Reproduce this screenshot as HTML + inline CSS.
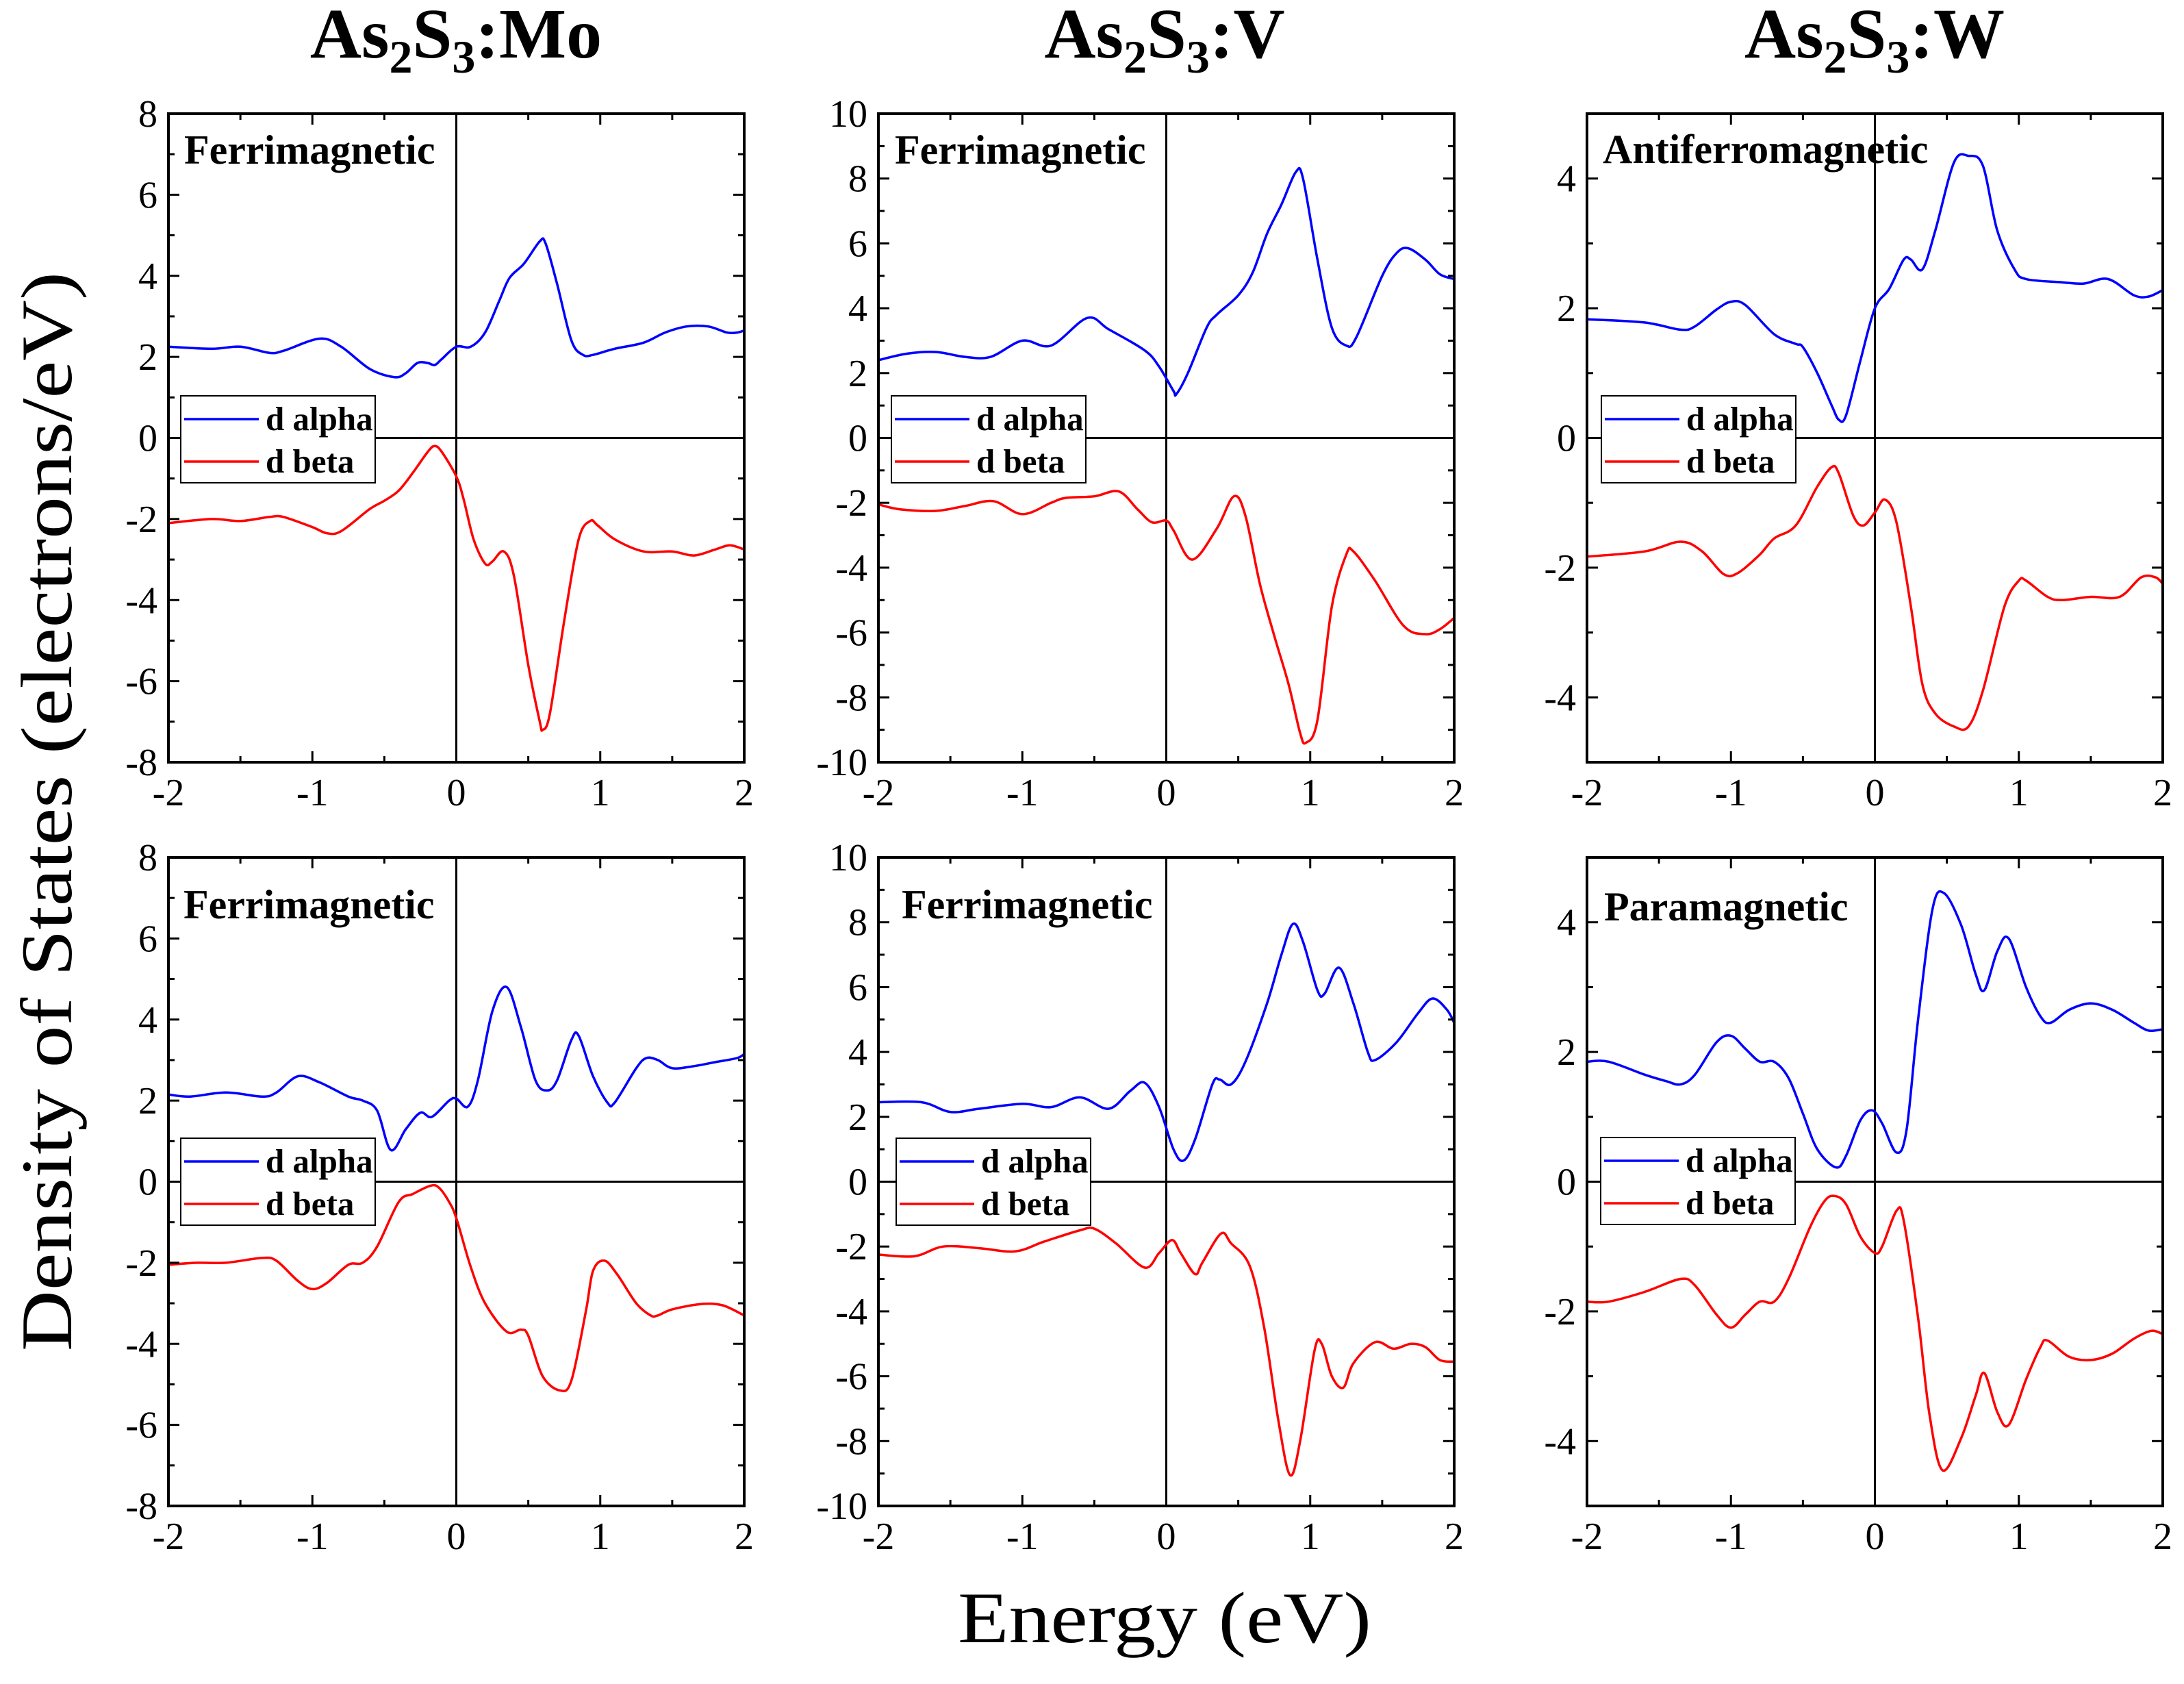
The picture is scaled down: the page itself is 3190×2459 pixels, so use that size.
<!DOCTYPE html>
<html><head><meta charset="utf-8"><style>
html,body{margin:0;padding:0;background:#fff;}
svg{display:block;font-family:"Liberation Serif","Times New Roman",serif;}
svg text{font-family:"Liberation Serif","Times New Roman",serif;}
</style></head><body>
<svg id="fig" width="3190" height="2459" viewBox="0 0 3190 2459" xmlns="http://www.w3.org/2000/svg">
<text x="666" y="84" font-size="104" font-weight="bold" text-anchor="middle" font-family="Liberation Serif, serif">As<tspan font-size="68" dy="22">2</tspan><tspan dy="-22">S</tspan><tspan font-size="68" dy="22">3</tspan><tspan dy="-22">:Mo</tspan></text>
<text x="1701" y="84" font-size="104" font-weight="bold" text-anchor="middle" font-family="Liberation Serif, serif">As<tspan font-size="68" dy="22">2</tspan><tspan dy="-22">S</tspan><tspan font-size="68" dy="22">3</tspan><tspan dy="-22">:V</tspan></text>
<text x="2738" y="84" font-size="104" font-weight="bold" text-anchor="middle" font-family="Liberation Serif, serif">As<tspan font-size="68" dy="22">2</tspan><tspan dy="-22">S</tspan><tspan font-size="68" dy="22">3</tspan><tspan dy="-22">:W</tspan></text>
<text transform="translate(104,1185) rotate(-90)" font-size="106" text-anchor="middle" textLength="1576" lengthAdjust="spacingAndGlyphs" font-family="Liberation Serif, serif">Density of States (electrons/eV)</text>
<text x="1701" y="2398" font-size="106" text-anchor="middle" textLength="604" lengthAdjust="spacingAndGlyphs" font-family="Liberation Serif, serif">Energy (eV)</text>
</svg>
<script>
// ---- data (energy in eV, DOS in electrons/eV) ----
const moTopAlphaE=[-2,-1.7,-1.5,-1.3,-1.2,-0.95,-0.8,-0.6,-0.43,-0.35,-0.27,-0.2,-0.15,-0.1,0,0.1,0.2,0.3,0.37,0.47,0.58,0.62,0.7,0.8,0.88,0.95,1.1,1.3,1.45,1.6,1.75,1.88,1.95,2];
const moTopAlpha=[2.25,2.2,2.25,2.1,2.15,2.45,2.25,1.7,1.5,1.6,1.85,1.85,1.8,1.95,2.25,2.25,2.6,3.4,3.95,4.3,4.85,4.8,3.8,2.4,2.05,2.05,2.2,2.35,2.6,2.75,2.75,2.6,2.6,2.65];
const moTopBetaE=[-2,-1.7,-1.5,-1.3,-1.2,-1.0,-0.9,-0.8,-0.6,-0.5,-0.4,-0.3,-0.2,-0.15,-0.1,0,0.05,0.12,0.2,0.25,0.33,0.4,0.5,0.58,0.6,0.65,0.75,0.85,0.93,0.98,1.1,1.3,1.5,1.65,1.8,1.9,2];
const moTopBeta=[-2.1,-2.0,-2.05,-1.95,-1.95,-2.2,-2.35,-2.3,-1.75,-1.55,-1.3,-0.85,-0.35,-0.2,-0.35,-0.95,-1.5,-2.5,-3.1,-3.05,-2.8,-3.4,-5.6,-7.0,-7.2,-6.8,-4.5,-2.5,-2.05,-2.15,-2.5,-2.8,-2.8,-2.9,-2.75,-2.65,-2.75];

const vTopAlphaE=[-2,-1.8,-1.6,-1.4,-1.22,-1.0,-0.8,-0.55,-0.4,-0.15,-0.05,0.05,0.07,0.15,0.28,0.35,0.5,0.6,0.7,0.8,0.9,0.95,1.05,1.15,1.25,1.32,1.5,1.6,1.68,1.8,1.9,2];
const vTopAlpha=[2.4,2.6,2.65,2.5,2.5,3.0,2.85,3.7,3.35,2.7,2.2,1.45,1.35,2.0,3.4,3.8,4.4,5.1,6.3,7.2,8.2,8.0,5.5,3.4,2.85,3.1,5.0,5.7,5.85,5.5,5.05,4.9];
const vTopBetaE=[-2,-1.85,-1.6,-1.4,-1.2,-1.0,-0.8,-0.7,-0.5,-0.33,-0.2,-0.1,0,0.05,0.18,0.35,0.47,0.55,0.65,0.75,0.85,0.93,0.97,1.05,1.15,1.25,1.3,1.45,1.65,1.8,1.9,2];
const vTopBeta=[-2.05,-2.2,-2.25,-2.1,-1.95,-2.35,-2.0,-1.85,-1.8,-1.65,-2.2,-2.6,-2.55,-2.85,-3.75,-2.8,-1.8,-2.4,-4.5,-6.1,-7.6,-9.1,-9.4,-8.7,-5.2,-3.6,-3.5,-4.4,-5.8,-6.05,-5.9,-5.55];

const wTopAlphaE=[-2,-1.6,-1.35,-1.25,-1.1,-1.0,-0.9,-0.7,-0.55,-0.5,-0.4,-0.3,-0.25,-0.2,-0.1,0,0.1,0.2,0.25,0.33,0.42,0.55,0.65,0.75,0.85,0.97,1.05,1.3,1.45,1.62,1.8,1.9,2];
const wTopAlpha=[1.83,1.78,1.67,1.72,1.98,2.1,2.05,1.6,1.45,1.4,1.0,0.5,0.28,0.35,1.2,2.0,2.3,2.75,2.75,2.6,3.2,4.25,4.35,4.2,3.2,2.6,2.45,2.4,2.38,2.45,2.2,2.18,2.28];
const wTopBetaE=[-2,-1.6,-1.35,-1.2,-1.05,-0.95,-0.8,-0.7,-0.55,-0.4,-0.3,-0.25,-0.15,-0.08,0,0.07,0.15,0.25,0.33,0.42,0.55,0.65,0.75,0.9,1.0,1.05,1.2,1.3,1.5,1.7,1.85,1.95,2];
const wTopBeta=[-1.83,-1.75,-1.6,-1.75,-2.1,-2.08,-1.8,-1.55,-1.35,-0.75,-0.45,-0.55,-1.2,-1.35,-1.15,-0.95,-1.3,-2.6,-3.8,-4.25,-4.45,-4.45,-3.9,-2.6,-2.2,-2.2,-2.45,-2.5,-2.45,-2.45,-2.15,-2.15,-2.25];

const moBotAlphaE=[-2,-1.85,-1.6,-1.35,-1.25,-1.1,-0.95,-0.75,-0.65,-0.55,-0.455,-0.35,-0.25,-0.17,-0.05,0,0.08,0.15,0.25,0.35,0.45,0.55,0.63,0.7,0.8,0.85,0.95,1.05,1.1,1.25,1.32,1.4,1.5,1.65,1.8,1.95,2];
const moBotAlpha=[2.15,2.1,2.2,2.1,2.2,2.6,2.45,2.1,2.0,1.75,0.78,1.3,1.7,1.6,2.0,2.05,1.85,2.5,4.2,4.8,3.8,2.5,2.25,2.5,3.5,3.6,2.6,1.95,1.95,2.8,3.05,3.0,2.8,2.85,2.95,3.05,3.15];
const moBotBetaE=[-2,-1.8,-1.6,-1.35,-1.25,-1.1,-1.0,-0.9,-0.75,-0.65,-0.55,-0.4,-0.3,-0.18,-0.12,-0.05,0,0.1,0.2,0.35,0.45,0.5,0.6,0.72,0.8,0.9,0.95,1.03,1.12,1.25,1.35,1.4,1.5,1.7,1.85,2];
const moBotBeta=[-2.05,-2.0,-2.0,-1.88,-1.95,-2.45,-2.65,-2.5,-2.05,-2.0,-1.6,-0.5,-0.3,-0.1,-0.15,-0.5,-0.9,-2.1,-3.0,-3.7,-3.65,-3.8,-4.8,-5.15,-4.9,-3.2,-2.2,-1.95,-2.3,-3.0,-3.3,-3.3,-3.15,-3.02,-3.05,-3.3];

const vBotAlphaE=[-2,-1.7,-1.5,-1.3,-1.0,-0.8,-0.6,-0.4,-0.25,-0.15,-0.05,0.05,0.12,0.2,0.32,0.37,0.45,0.55,0.7,0.8,0.88,0.95,1.05,1.1,1.2,1.3,1.4,1.45,1.6,1.75,1.85,1.95,2];
const vBotAlpha=[2.45,2.45,2.15,2.25,2.4,2.3,2.6,2.25,2.8,3.05,2.3,1.0,0.65,1.3,3.0,3.15,3.0,3.7,5.5,7.0,7.95,7.4,5.9,5.8,6.6,5.5,4.0,3.75,4.3,5.2,5.65,5.3,4.9];
const vBotBetaE=[-2,-1.75,-1.55,-1.3,-1.05,-0.85,-0.6,-0.5,-0.35,-0.15,-0.05,0.04,0.1,0.2,0.25,0.38,0.45,0.58,0.68,0.78,0.86,0.93,1.03,1.08,1.15,1.23,1.3,1.45,1.58,1.7,1.8,1.9,2];
const vBotBeta=[-2.25,-2.3,-2.0,-2.05,-2.15,-1.85,-1.5,-1.45,-1.9,-2.65,-2.2,-1.8,-2.2,-2.85,-2.5,-1.6,-1.9,-2.6,-4.5,-7.4,-9.05,-8.0,-5.2,-5.0,-6.0,-6.35,-5.6,-4.95,-5.15,-5.0,-5.1,-5.5,-5.55];

const wBotAlphaE=[-2,-1.85,-1.6,-1.45,-1.35,-1.25,-1.1,-1.0,-0.9,-0.8,-0.7,-0.6,-0.5,-0.4,-0.27,-0.2,-0.1,-0.02,0.05,0.15,0.22,0.3,0.4,0.48,0.6,0.7,0.76,0.85,0.93,1.05,1.15,1.22,1.35,1.5,1.65,1.8,1.9,2];
const wBotAlpha=[1.85,1.85,1.65,1.55,1.5,1.65,2.15,2.25,2.05,1.85,1.85,1.6,1.05,0.5,0.22,0.4,0.95,1.1,0.9,0.45,0.8,2.5,4.2,4.45,3.95,3.2,2.95,3.55,3.75,3.0,2.55,2.45,2.65,2.75,2.65,2.45,2.33,2.35];
const wBotBetaE=[-2,-1.85,-1.6,-1.35,-1.25,-1.1,-1.0,-0.9,-0.8,-0.7,-0.6,-0.45,-0.35,-0.28,-0.2,-0.1,0,0.05,0.15,0.2,0.3,0.38,0.47,0.6,0.7,0.76,0.85,0.93,1.05,1.15,1.2,1.35,1.5,1.65,1.8,1.92,2];
const wBotBeta=[-1.85,-1.85,-1.7,-1.5,-1.6,-2.05,-2.25,-2.05,-1.85,-1.85,-1.5,-0.7,-0.3,-0.22,-0.35,-0.85,-1.1,-1.0,-0.45,-0.6,-2.1,-3.6,-4.45,-3.95,-3.3,-2.95,-3.55,-3.75,-3.05,-2.55,-2.45,-2.7,-2.75,-2.65,-2.42,-2.3,-2.35];

const xTicks=[-2,-1,0,1,2];
const yTicksMo=[-8,-6,-4,-2,0,2,4,6,8];
const yTicksV=[-10,-8,-6,-4,-2,0,2,4,6,8,10];
const yTicksW=[-4,-2,0,2,4];
const labels=["Ferrimagnetic","Ferrimagnetic","Antiferromagnetic","Ferrimagnetic","Ferrimagnetic","Paramagnetic"];

const NS="http://www.w3.org/2000/svg";
const FONT="Liberation Serif, serif";
const svg=document.getElementById('fig');
function mk(tag,attrs,parent){const e=document.createElementNS(NS,tag);for(const k in attrs)e.setAttribute(k,attrs[k]);(parent||svg).appendChild(e);return e;}

const cols=[246,1283,2318], rows=[166,1252], W=841, H=947;
const panels=[
 {c:0,r:0,ymin:-8,ymax:8,yt:yTicksMo,a:[moTopAlphaE,moTopAlpha],b:[moTopBetaE,moTopBeta],lab:0,lx:23,ly:73,gx:18,gy:412,name:'mo-ferri-top'},
 {c:1,r:0,ymin:-10,ymax:10,yt:yTicksV,a:[vTopAlphaE,vTopAlpha],b:[vTopBetaE,vTopBeta],lab:1,lx:24,ly:73,gx:19,gy:412,name:'v-ferri-top'},
 {c:2,r:0,ymin:-5,ymax:5,yt:yTicksW,a:[wTopAlphaE,wTopAlpha],b:[wTopBetaE,wTopBeta],lab:2,lx:23,ly:72,gx:21,gy:412,name:'w-antiferro'},
 {c:0,r:1,ymin:-8,ymax:8,yt:yTicksMo,a:[moBotAlphaE,moBotAlpha],b:[moBotBetaE,moBotBeta],lab:3,lx:22,ly:89,gx:18,gy:410,name:'mo-ferri-bottom'},
 {c:1,r:1,ymin:-10,ymax:10,yt:yTicksV,a:[vBotAlphaE,vBotAlpha],b:[vBotBetaE,vBotBeta],lab:4,lx:34,ly:89,gx:26,gy:410,name:'v-ferri-bottom'},
 {c:2,r:1,ymin:-5,ymax:5,yt:yTicksW,a:[wBotAlphaE,wBotAlpha],b:[wBotBetaE,wBotBeta],lab:5,lx:25,ly:92,gx:20,gy:409,name:'w-para'}
];

function smoothPath(pts){
  let d='M'+pts[0][0].toFixed(1)+','+pts[0][1].toFixed(1);
  for(let i=0;i<pts.length-1;i++){
    const p0=pts[Math.max(0,i-1)],p1=pts[i],p2=pts[i+1],p3=pts[Math.min(pts.length-1,i+2)];
    const c1x=p1[0]+(p2[0]-p0[0])/6,c1y=p1[1]+(p2[1]-p0[1])/6;
    const c2x=p2[0]-(p3[0]-p1[0])/6,c2y=p2[1]-(p3[1]-p1[1])/6;
    d+=' C'+c1x.toFixed(1)+','+c1y.toFixed(1)+' '+c2x.toFixed(1)+','+c2y.toFixed(1)+' '+p2[0].toFixed(1)+','+p2[1].toFixed(1);
  }
  return d;
}

panels.forEach(p=>{
  const L=cols[p.c],T=rows[p.r],R=L+W,B=T+H;
  const sx=e=>L+(e+2)/4*W;
  const sy=v=>B-(v-p.ymin)/(p.ymax-p.ymin)*H;
  const g=mk('g',{});
  
  
  const zx=mk('line',{x1:sx(0),y1:T,x2:sx(0),y2:B,stroke:'#000','stroke-width':3},g);
  
  
  const zy=mk('line',{x1:L,y1:sy(0),x2:R,y2:sy(0),stroke:'#000','stroke-width':3},g);
  
  
  [[p.a,'#0000ff','d-alpha-curve'],[p.b,'#ff0000','d-beta-curve']].forEach(s=>{
    const pts=s[0][0].map((e,i)=>[sx(e),sy(s[0][1][i])]);
    const path=mk('path',{d:smoothPath(pts),fill:'none',stroke:s[1],'stroke-width':3.5,'stroke-linejoin':'round'},g);
    
    
  });
  const fr=mk('rect',{x:L,y:T,width:W,height:H,fill:'none',stroke:'#000','stroke-width':4},g);
  
  
  for(let e=-2;e<=2.001;e+=0.5){
    const major=Math.abs(e-Math.round(e))<1e-6, len=major?16:9, x=sx(e);
    mk('line',{x1:x,y1:B,x2:x,y2:B-len,stroke:'#000','stroke-width':3},g);
    mk('line',{x1:x,y1:T,x2:x,y2:T+len,stroke:'#000','stroke-width':3},g);
  }
  xTicks.forEach(e=>{
    const t=mk('text',{x:sx(e),y:B+63,'font-size':56,'text-anchor':'middle','font-family':FONT},g);
    t.textContent=String(e);
    
    
  });
  for(let v=p.ymin;v<=p.ymax;v+=1){
    const major=(v%2===0), len=major?16:9, y=sy(v);
    mk('line',{x1:L,y1:y,x2:L+len,y2:y,stroke:'#000','stroke-width':3},g);
    mk('line',{x1:R,y1:y,x2:R-len,y2:y,stroke:'#000','stroke-width':3},g);
  }
  p.yt.forEach(v=>{
    const t=mk('text',{x:L-16,y:sy(v)+19,'font-size':56,'text-anchor':'end','font-family':FONT},g);
    t.textContent=String(v);
    
    
  });
  const an=mk('text',{x:L+p.lx,y:T+p.ly,'font-size':60,'font-weight':'bold','font-family':FONT},g);
  an.textContent=labels[p.lab];
  
  
  const lg=mk('g',{},g);
  
  
  const gx=L+p.gx, gy=T+p.gy;
  mk('rect',{x:gx,y:gy,width:284,height:127,fill:'#fff',stroke:'#000','stroke-width':2},lg);
  [['d alpha','#0000ff',34],['d beta','#ff0000',96]].forEach(it=>{
    const ent=mk('g',{},lg);
    
    
    mk('line',{x1:gx+5,y1:gy+it[2],x2:gx+114,y2:gy+it[2],stroke:it[1],'stroke-width':3.5},ent);
    const t=mk('text',{x:gx+124,y:gy+it[2]+16,'font-size':49,'font-weight':'bold','font-family':FONT},ent);
    t.textContent=it[0];
  });
});
</script>
</body></html>
